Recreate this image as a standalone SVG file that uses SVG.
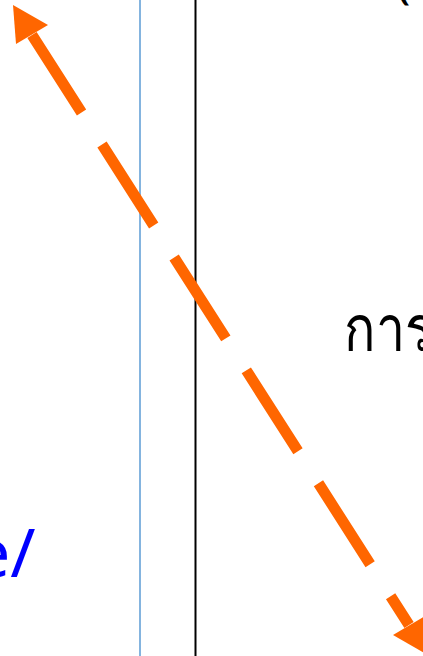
<svg xmlns="http://www.w3.org/2000/svg" width="423" height="656" viewBox="0 0 423 656">
<style>
.lbl{font-family:"Noto Sans","DejaVu Sans","Liberation Sans",sans-serif;}
</style>
<rect width="423" height="656" fill="#ffffff"/>
<g id="lines">
<line x1="140" y1="0" x2="140" y2="656" stroke="#5B9BD5" stroke-width="1.5"/>
<line x1="195.5" y1="0" x2="195.5" y2="656" stroke="#000000" stroke-width="2"/>
</g>
<g id="texts">
<text class="lbl" x="396" y="-2" font-size="48" fill="#000000">(</text>
<text class="lbl" transform="translate(344,351) scale(1,1.25)" x="0" y="0" font-size="52" font-weight="500" fill="#000000">การ</text>
<text class="lbl" x="-28" y="577" font-size="68" fill="#0000FF">e/</text>
</g>
<g id="connectors">
<path d="M32,35 L409,625" fill="none" stroke="#FF6600" stroke-width="11" stroke-dasharray="96 38" stroke-dashoffset="4"/>
<polygon points="13,5 48,25 16,44" fill="#FF6600"/>
<polygon points="428,655 393,635 425,616" fill="#FF6600"/>
</g>
</svg>
